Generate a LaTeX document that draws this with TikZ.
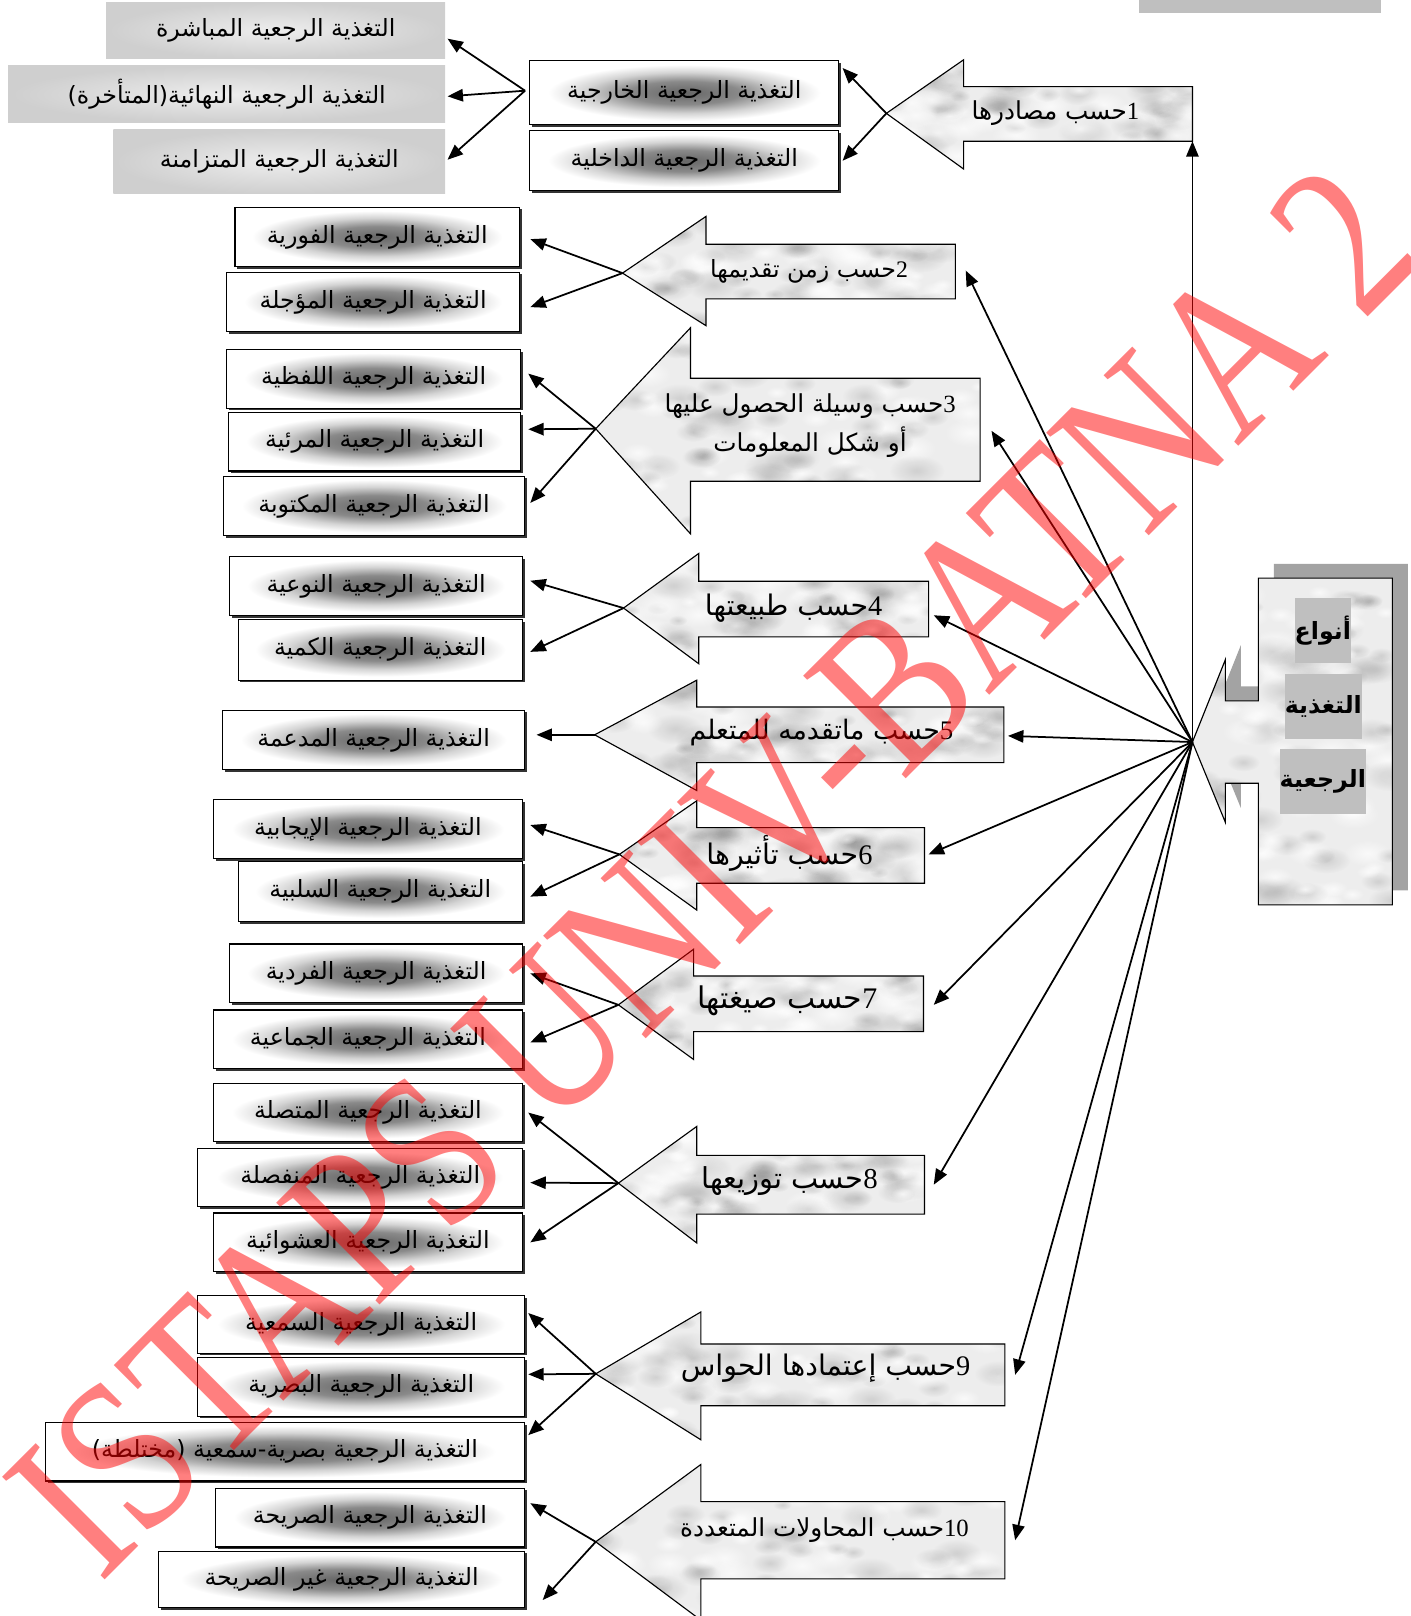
\documentclass[tikz,border=0pt]{standalone}
\usepackage{fontspec}
\setmainfont{Liberation Serif}
\newfontfamily\arfont[Script=Arabic]{DejaVu Sans}
\newfontfamily\wmfont{Liberation Serif}
\TeXXeTstate=1
\usetikzlibrary{arrows.meta,calc,shadows,fadings}

% dark glow behind the text of the framed boxes
\pgfdeclareradialshading{glow}{\pgfpoint{0bp}{0bp}}{color(0bp)=(black!60); color(9bp)=(black!46); color(16bp)=(black!17); color(22bp)=(white); color(50bp)=(white)}
% soft grey fill of the upper-left boxes
\pgfdeclareradialshading{greyglow}{\pgfpoint{0bp}{0bp}}{color(0bp)=(black!7); color(25bp)=(black!19); color(50bp)=(black!19)}
% soft round spot used for the marble texture
\tikzfading[name=softblob, inner color=transparent!0, outer color=transparent!100]

\newcommand\boxfont{\arfont\fontsize{23}{27}\selectfont}

\tikzset{
  wbox/.style={draw=black, line width=1.1pt, shading=glow, inner sep=0pt,
    drop shadow={shadow xshift=2.2pt, shadow yshift=-2.2pt, fill=black!80, opacity=1}},
  gbox/.style={shading=greyglow, inner sep=0pt},
  marbleline/.style={draw=black, line width=1.1pt, line join=miter},
  conn/.style={line width=1.7pt, -{Triangle[length=15pt,width=12pt]}},
  lbl/.style={inner sep=0pt, align=center},
  hubtag/.style={fill=black!25, inner sep=0pt, font=\arfont\bfseries\fontsize{23}{26}\selectfont},
  wm/.style={text=red, opacity=0.5, inner sep=0pt, font=\wmfont\fontsize{215}{215}\selectfont},
}

% framed box: name, x1, y1, x2, y2, text
\newcommand\wbx[6]{\node[wbox, minimum width={(#4)-(#2)}, minimum height={(#5)-(#3)}]
  (#1) at ({((#2)+(#4))/2},{((#3)+(#5))/2}) {\boxfont #6};}
% grey box: name, x1, y1, x2, y2, text
\newcommand\gbx[6]{\node[gbox, minimum width={(#4)-(#2)}, minimum height={(#5)-(#3)}]
  (#1) at ({((#2)+(#4))/2},{((#3)+(#5))/2}) {\boxfont #6};}
% marble-filled outline: path, xmin, ymin, xmax, ymax
\newcommand\marble[5]{%
  \begin{scope}
    \clip #1;
    \fill[black!7] (#2,#3) rectangle (#4,#5);
    \foreach \k in {1,...,60}{%
      \pgfmathsetmacro\mx{#2+rnd*(#4-#2)}%
      \pgfmathsetmacro\my{#3+rnd*(#5-#3)}%
      \pgfmathsetmacro\mr{5+rnd*11}%
      \fill[black, opacity=0.12, path fading=softblob] (\mx,\my) ellipse ({1.8*\mr} and {\mr});
      \pgfmathsetmacro\mx{#2+rnd*(#4-#2)}%
      \pgfmathsetmacro\my{#3+rnd*(#5-#3)}%
      \fill[white, opacity=0.7, path fading=softblob] (\mx,\my) ellipse ({1.6*\mr} and {0.9*\mr});
    }
  \end{scope}
  \draw[marbleline] #1;}
% block arrow pointing left: name, tip x, tip y, head x, head top, head bottom, shaft top, shaft bottom, right x
\newcommand\blockarrow[9]{%
  \marble{(#2,#3) -- (#4,#5) -- (#4,#7) -- (#9,#7) -- (#9,#8) -- (#4,#8) -- (#4,#6) -- cycle}{#2}{#5}{#9}{#6}
  \coordinate (#1tip) at (#2,#3);
  \coordinate (#1end) at (#9,{((#7)+(#8))/2});
  \coordinate (#1corner) at (#9,#8);}

\begin{document}
\begin{tikzpicture}[x=1pt,y=-1pt]
\pgfmathsetseed{42}
\useasboundingbox (0,0) rectangle (1369,1568);

\node[fill=black!25, minimum width=235, minimum height=13, inner sep=0pt] (topbar) at (1222.5,6) {};

% ---- boxes for the kinds of feedback ----
\gbx{gA}{103}{2}{432}{57}{\beginR التغذية الرجعية المباشرة\endR}
\gbx{gB}{8}{64}{432}{119}{\beginR التغذية الرجعية النهائية(المتأخرة)^^^^200f\endR}
\gbx{gC}{110}{126}{432}{188}{\beginR التغذية الرجعية المتزامنة\endR}
\wbx{D}{514}{59}{814}{121}{\beginR التغذية الرجعية الخارجية\endR}
\wbx{E}{514}{127}{814}{185}{\beginR التغذية الرجعية الداخلية\endR}
\wbx{F}{228}{201}{504}{259}{\beginR التغذية الرجعية الفورية\endR}
\wbx{G}{220}{264}{504}{322}{\beginR التغذية الرجعية المؤجلة\endR}
\wbx{H}{220}{339}{505}{396}{\beginR التغذية الرجعية اللفظية\endR}
\wbx{I}{222}{400}{505}{457}{\beginR التغذية الرجعية المرئية\endR}
\wbx{J}{217}{462}{509}{520}{\beginR التغذية الرجعية المكتوبة\endR}
\wbx{K}{223}{540}{507}{597}{\beginR التغذية الرجعية النوعية\endR}
\wbx{L}{231}{601}{507}{660}{\beginR التغذية الرجعية الكمية\endR}
\wbx{M}{216}{689}{509}{747}{\beginR التغذية الرجعية المدعمة\endR}
\wbx{N}{207}{776}{507}{833}{\beginR التغذية الرجعية الإيجابية\endR}
\wbx{O}{231}{836}{507}{894}{\beginR التغذية الرجعية السلبية\endR}
\wbx{P}{223}{916}{507}{973}{\beginR التغذية الرجعية الفردية\endR}
\wbx{Q}{207}{980}{507}{1037}{\beginR التغذية الرجعية الجماعية\endR}
\wbx{R}{207}{1051}{507}{1108}{\beginR التغذية الرجعية المتصلة\endR}
\wbx{S}{192}{1114}{507}{1171}{\beginR التغذية الرجعية المنفصلة\endR}
\wbx{T}{207}{1177}{507}{1234}{\beginR التغذية الرجعية العشوائية\endR}
\wbx{U}{192}{1257}{509}{1313}{\beginR التغذية الرجعية السمعية\endR}
\wbx{V}{192}{1317}{509}{1374}{\beginR التغذية الرجعية البصرية\endR}
\wbx{W}{44}{1380}{509}{1437}{\beginR التغذية الرجعية بصرية-سمعية ^^^^200f(مختلطة)^^^^200f\endR}
\wbx{X}{209}{1444}{509}{1501}{\beginR التغذية الرجعية الصريحة\endR}
\wbx{Y}{154}{1505}{509}{1560}{\beginR التغذية الرجعية غير الصريحة\endR}

% ---- category arrows ----
\blockarrow{a1}{860}{110}{935}{58}{164}{84}{137}{1157}
\blockarrow{a2}{604}{265}{685}{210}{316}{237}{290}{927}
\blockarrow{a3}{578}{416}{670}{318}{518}{367}{467}{951}
\blockarrow{a4}{605}{590}{678}{537}{644}{564}{618}{901}
\blockarrow{a5}{577}{713}{676}{660}{767}{686}{740}{974}
\blockarrow{a6}{601}{829}{676}{777}{883}{803}{857}{897}
\blockarrow{a7}{600}{975}{673}{921}{1028}{947}{1001}{896}
\blockarrow{a8}{600}{1148}{676}{1093}{1206}{1121}{1178}{897}
\blockarrow{a9}{578}{1333}{680}{1273}{1397}{1304}{1364}{975}
\blockarrow{a10}{578}{1496}{680}{1421}{1572}{1457}{1532}{975}

\node[lbl, font=\fontsize{24}{28}\selectfont] (l1) at (1024,110) {{\arfont\beginR حسب مصادرها\endR}1};
\node[lbl, font=\fontsize{23}{27}\selectfont] (l2) at (785,263) {{\arfont\beginR حسب زمن تقديمها\endR}2};
\node[lbl, font=\fontsize{24}{37}\selectfont] (l3) at (786,413) {{\arfont\beginR حسب وسيلة الحصول عليها\endR}3\\{\arfont\beginR أو شكل المعلومات\endR}};
\node[lbl, font=\fontsize{27.5}{31}\selectfont] (l4) at (770,590) {{\arfont\beginR حسب طبيعتها\endR}4};
\node[lbl, font=\fontsize{26}{30}\selectfont] (l5) at (797,711) {{\arfont\beginR حسب ماتقدمه للمتعلم\endR}5};
\node[lbl, font=\fontsize{27.5}{31}\selectfont] (l6) at (766,828) {{\arfont\beginR حسب تأثيرها\endR}6};
\node[lbl, font=\fontsize{29}{33}\selectfont] (l7) at (764,971) {{\arfont\beginR حسب صيغتها\endR}7};
\node[lbl, font=\fontsize{28}{32}\selectfont] (l8) at (766,1146) {{\arfont\beginR حسب توزيعها\endR}8};
\node[lbl, font=\fontsize{27.5}{31}\selectfont] (l9) at (801,1328) {{\arfont\beginR حسب إعتمادها الحواس\endR}9};
\node[lbl, font=\fontsize{24}{28}\selectfont] (l10) at (800,1485) {{\arfont\beginR حسب المحاولات المتعددة\endR}10};

% ---- central block with its shadow ----
\begin{scope}[shift={(15,-14)}]
  \fill[black!36] (1157,720) -- (1189,640) -- (1189,680) -- (1221,680) -- (1221,561) -- (1351,561)
    -- (1351,878) -- (1221,878) -- (1221,760) -- (1189,760) -- (1189,798) -- cycle;
\end{scope}
\marble{(1157,720) -- (1189,640) -- (1189,680) -- (1221,680) -- (1221,561) -- (1351,561)
    -- (1351,878) -- (1221,878) -- (1221,760) -- (1189,760) -- (1189,798) -- cycle}{1157}{561}{1351}{878}
\coordinate (hub) at (1157,720);
\node[hubtag, minimum width=53, minimum height=63] (t1) at (1283.5,611.5) {\beginR أنواع\endR};
\node[hubtag, minimum width=72, minimum height=63] (t2) at (1284,685.5) {\beginR التغذية\endR};
\node[hubtag, minimum width=77, minimum height=63] (t3) at (1283.5,758.5) {\beginR الرجعية\endR};

% ---- connectors from the centre to each category ----
\draw[conn] (hub) -- (a1corner);
\draw[conn] (hub) -- ([shift={(10,-1)}]a2end);
\draw[conn] (hub) -- ([shift={(11,1)}]a3end);
\draw[conn] (hub) -- ([shift={(5,6)}]a4end);
\draw[conn] (hub) -- ([shift={(4,1)}]a5end);
\draw[conn] (hub) -- ([shift={(4,-1)}]a6end);
\draw[conn] (hub) -- ([shift={(10,1)}]a7end);
\draw[conn] (hub) -- ([shift={(9,0)}]a8end);
\draw[conn] (hub) -- ([shift={(10,0)}]a9end);
\draw[conn] (hub) -- ([shift={(10,0)}]a10end);

% ---- connectors from each category to its kinds ----
\draw[conn] (a1tip) -- ([shift={(3,-24)}]D.east);
\draw[conn] (a1tip) -- ([shift={(3,0)}]E.east);
\coordinate (dsplit) at ([shift={(-4,-2)}]D.west);
\draw[conn] (dsplit) -- ([shift={(2,8)}]gA.east);
\draw[conn] (dsplit) -- ([shift={(2,2)}]gB.east);
\draw[conn] (dsplit) -- ([shift={(2,-2)}]gC.east);
\draw[conn] (a2tip) -- ([shift={(10,2)}]F.east);
\draw[conn] (a2tip) -- ([shift={(10,5)}]G.east);
\draw[conn] (a3tip) -- ([shift={(7,-5)}]H.east);
\draw[conn] (a3tip) -- ([shift={(7,-12)}]I.east);
\draw[conn] (a3tip) -- ([shift={(5,-3)}]J.east);
\draw[conn] (a4tip) -- ([shift={(7,-5)}]K.east);
\draw[conn] (a4tip) -- ([shift={(7,2)}]L.east);
\draw[conn] (a5tip) -- ([shift={(11,-5)}]M.east);
\draw[conn] (a6tip) -- ([shift={(7,-4)}]N.east);
\draw[conn] (a6tip) -- ([shift={(7,5)}]O.east);
\draw[conn] (a7tip) -- ([shift={(7,0)}]P.east);
\draw[conn] (a7tip) -- ([shift={(7,3)}]Q.east);
\draw[conn] (a8tip) -- ([shift={(5,0)}]R.east);
\draw[conn] (a8tip) -- ([shift={(7,5)}]S.east);
\draw[conn] (a8tip) -- ([shift={(7,0)}]T.east);
\draw[conn] (a9tip) -- ([shift={(3,-11)}]U.east);
\draw[conn] (a9tip) -- ([shift={(3,-12)}]V.east);
\draw[conn] (a9tip) -- ([shift={(3,-16)}]W.east);
\draw[conn] (a10tip) -- ([shift={(5,-14)}]X.east);
\draw[conn] (a10tip) -- ([shift={(17,20)}]Y.east);

% ---- watermark ----
\node[wm, rotate=45, xscale=0.82, anchor=base west] (wmark) at (97,1538) {ISTAPS UNIV-BATNA 2};
\end{tikzpicture}
\end{document}
